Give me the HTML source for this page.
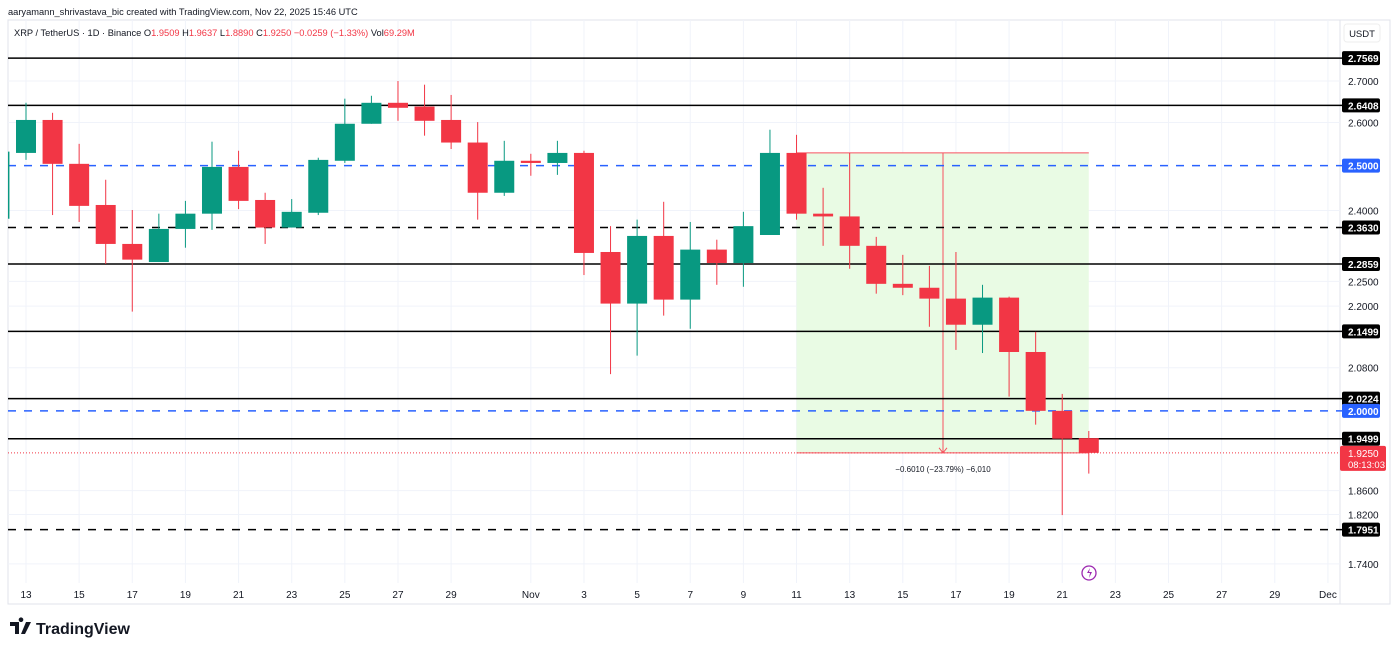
<!DOCTYPE html>
<html><head><meta charset="utf-8"><style>
body{margin:0;background:#fff;font-family:"Liberation Sans",sans-serif;}
svg text{font-family:"Liberation Sans",sans-serif;}
</style></head><body>
<svg id="c" width="1400" height="651" viewBox="0 0 1400 651" xmlns="http://www.w3.org/2000/svg">
<rect width="1400" height="651" fill="#fff"/>
<text x="8" y="15" font-size="9.3" fill="#131722">aaryamann_shrivastava_bic created with TradingView.com, Nov 22, 2025 15:46 UTC</text>
<rect x="8" y="20" width="1382" height="584" fill="none" stroke="#e0e3eb"/>
<line x1="1340" y1="20" x2="1340" y2="604" stroke="#e0e3eb"/>
<g id="grid"></g>
<g id="pos"></g>
<g id="levels"></g>
<g id="candles"></g>
<g id="axis"></g>
<g id="xaxis"></g>
<text x="14" y="36" font-size="9.3" fill="#131722">XRP / TetherUS · 1D · Binance <tspan>O</tspan><tspan fill="#f23645">1.9509</tspan> H<tspan fill="#f23645">1.9637</tspan> L<tspan fill="#f23645">1.8890</tspan> C<tspan fill="#f23645">1.9250</tspan> <tspan fill="#f23645">−0.0259 (−1.33%)</tspan> Vol<tspan fill="#f23645">69.29M</tspan></text>
<rect x="1344" y="24" width="36" height="18" rx="3" fill="#fff" stroke="#eee"/>
<text x="1362" y="37" font-size="9.5" text-anchor="middle" fill="#131722">USDT</text>
<g>
<path d="M10 622h9v12h-4v-8h-5z M21 622a2.3 2.3 0 1 1 0.01 0z M26 622h5l-6 12h-4z" fill="#131722"/>
<text x="36" y="634" font-size="16" font-weight="bold" fill="#131722">TradingView</text>
</g>
<g><circle cx="1089" cy="573" r="7" fill="none" stroke="#9c27b0" stroke-width="1.3"/><path d="M1090 568l-3 5h3l-1 5 3-6h-3z" fill="#9c27b0"/></g>
</svg>
<script>
const dates=['12','13','14','15','16','17','18','19','20','21','22','23','24','25','26','27','28','29','30','31','N1','N2','N3','N4','N5','N6','N7','N8','N9','N10','N11','N12','N13','N14','N15','N16','N17','N18','N19','N20','N21','N22'];
const opens=[2.382,2.529,2.606,2.504,2.412,2.328,2.290,2.360,2.393,2.497,2.423,2.363,2.395,2.511,2.597,2.647,2.638,2.606,2.553,2.439,2.511,2.506,2.529,2.311,2.205,2.345,2.213,2.316,2.288,2.347,2.529,2.393,2.387,2.324,2.245,2.237,2.215,2.163,2.217,2.110,2.000,1.9509];
const highs=[2.532,2.647,2.623,2.550,2.468,2.401,2.393,2.421,2.555,2.534,2.439,2.425,2.518,2.657,2.664,2.700,2.691,2.666,2.601,2.557,2.527,2.557,2.534,2.366,2.380,2.419,2.375,2.337,2.397,2.583,2.571,2.450,2.529,2.343,2.305,2.282,2.311,2.243,2.219,2.149,2.031,1.9637];
const lows=[2.382,2.513,2.390,2.375,2.286,2.189,2.290,2.320,2.358,2.403,2.328,2.363,2.390,2.506,2.597,2.604,2.569,2.538,2.380,2.432,2.477,2.479,2.263,2.068,2.103,2.181,2.155,2.243,2.239,2.347,2.380,2.324,2.276,2.225,2.222,2.159,2.114,2.108,2.026,1.975,1.819,1.889];
const closes=[2.532,2.606,2.504,2.410,2.328,2.295,2.360,2.393,2.497,2.421,2.363,2.397,2.513,2.597,2.647,2.635,2.604,2.553,2.439,2.511,2.506,2.529,2.309,2.205,2.345,2.213,2.316,2.288,2.366,2.529,2.393,2.387,2.324,2.245,2.237,2.215,2.163,2.217,2.110,2.000,1.950,1.925];
const tickPrices=[2.7,2.6,2.4,2.25,2.2,2.08,1.86,1.82,1.74];
const tickLabels=['2.7000','2.6000','2.4000','2.2500','2.2000','2.0800','1.8600','1.8200','1.7400'];
const solidLevels=[2.7569,2.6408,2.2859,2.1499,2.0224,1.9499];
const blackDashLevels=[2.3630,1.7951];
const blueDashLevels=[2.5,2.0];
const xLabels=['13','15','17','19','21','23','25','27','29','Nov','3','5','7','9','11','13','15','17','19','21','23','25','27','29','Dec'];
const xLabelDays=[1,3,5,7,9,11,13,15,17,20,22,24,26,28,30,32,34,36,38,40,42,44,46,48,50];
const posStart=30, posEnd=41, posEntry=2.529, posTarget=1.925;
const lastPrice=1.925;

const NS='http://www.w3.org/2000/svg';
const y=p=>1172.6-1099*Math.log(p);
const x=i=>26+26.57*(i-1);
function mk(tag,attrs,parent){const e=document.createElementNS(NS,tag);for(const k in attrs)e.setAttribute(k,attrs[k]);document.getElementById(parent).appendChild(e);return e;}
tickPrices.forEach(p=>{const e=mk('line',{x1:8,x2:1340,y1:y(p),y2:y(p),stroke:'#f0f3fa'},'grid');

});
xLabels.forEach((l,k)=>{const xx=x(xLabelDays[k]);const e=mk('line',{x1:xx,x2:xx,y1:20,y2:583,stroke:'#f0f3fa'},'grid');


const t=mk('text',{x:xx,y:598,'font-size':10,'text-anchor':'middle',fill:'#131722'},'xaxis');t.textContent=l;

});
{const x1=x(posStart),x2=x(posEnd),y1=y(posEntry),y2=y(posTarget);
const r=mk('rect',{x:x1,y:y1,width:x2-x1,height:y2-y1,fill:'#e9fbe4'},'pos');


mk('line',{x1:x1,x2:x2,y1:y1,y2:y1,stroke:'#f7525f','stroke-width':1},'pos');
mk('line',{x1:x1,x2:x2,y1:y2,y2:y2,stroke:'#f7525f','stroke-width':1},'pos');
const a=mk('line',{x1:943,x2:943,y1:y1,y2:y2,stroke:'#f7525f'},'pos');


mk('path',{d:`M939 ${y2-5}L943 ${y2}L947 ${y2-5}`,fill:'none',stroke:'#f7525f'},'pos');
const t=mk('text',{x:943,y:y2+19,'font-size':8,'text-anchor':'middle',fill:'#131722'},'pos');t.textContent='−0.6010 (−23.79%) −6,010';

}
solidLevels.forEach(p=>{const e=mk('line',{x1:8,x2:1342,y1:y(p),y2:y(p),stroke:'#000','stroke-width':1.5},'levels');

});
blackDashLevels.forEach(p=>{const e=mk('line',{x1:8,x2:1342,y1:y(p),y2:y(p),stroke:'#000','stroke-width':1.5,'stroke-dasharray':'8 8'},'levels');

});
blueDashLevels.forEach(p=>{const e=mk('line',{x1:8,x2:1342,y1:y(p),y2:y(p),stroke:'#2962ff','stroke-width':1.5,'stroke-dasharray':'8 8'},'levels');

});
{const e=mk('line',{x1:8,x2:1340,y1:y(lastPrice),y2:y(lastPrice),stroke:'#f23645','stroke-width':1,'stroke-dasharray':'1 2'},'levels');

}
{const cp=mk('clipPath',{id:'cl'},'candles');const cr=document.createElementNS(NS,'rect');
cr.setAttribute('x',8);cr.setAttribute('y',20);cr.setAttribute('width',1332);cr.setAttribute('height',564);cp.appendChild(cr);
document.getElementById('candles').setAttribute('clip-path','url(#cl)');}
dates.forEach((d,i)=>{const o=opens[i],c=closes[i],h=highs[i],l=lows[i];const up=c>=o;const col=up?'#089981':'#f23645';const cx=x(i);
const w=mk('line',{x1:cx,x2:cx,y1:y(h),y2:y(l),stroke:col,'stroke-width':1},'candles');


const top=y(Math.max(o,c)),bot=y(Math.min(o,c));
const b=mk('rect',{x:cx-10,y:top,width:20,height:Math.max(2,bot-top),fill:col},'candles');

});
tickPrices.forEach((p,k)=>{const t=mk('text',{x:1348,y:y(p)+4,'font-size':10,fill:'#131722'},'axis');t.textContent=tickLabels[k];

});
function box(p,fill,txt){const yy=y(p);const r=mk('rect',{x:1342,y:yy-7,width:38,height:14,rx:2,fill:fill},'axis');


const t=mk('text',{x:1348,y:yy+4,'font-size':10,'font-weight':'bold',fill:'#fff'},'axis');t.textContent=txt;}
solidLevels.concat(blackDashLevels).forEach(p=>box(p,'#000',p.toFixed(4)));
blueDashLevels.forEach(p=>box(p,'#2962ff',p.toFixed(4)));
{const yy=y(lastPrice);const r=mk('rect',{x:1340,y:yy-7,width:46,height:25,rx:2,fill:'#f23645'},'axis');


const t=mk('text',{x:1348,y:yy+4,'font-size':10,fill:'#fff'},'axis');t.textContent=lastPrice.toFixed(4);
const t2=mk('text',{x:1348,y:yy+15,'font-size':9.5,fill:'#fff'},'axis');t2.textContent='08:13:03';

}
</script>
</body></html>
